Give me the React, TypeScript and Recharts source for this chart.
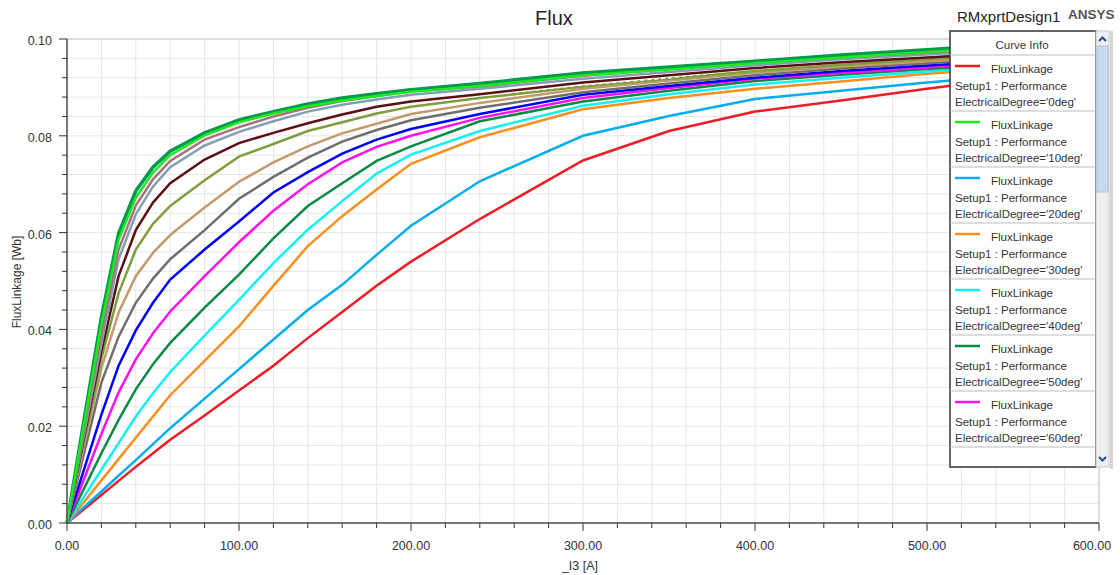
import React from 'react';
import { LineChart, Line, XAxis, YAxis, CartesianGrid } from 'recharts';

// current [A]
const current = [0, 10, 20, 30, 40, 50, 60, 80, 100, 120, 140, 160, 180, 200, 240, 300, 350, 400, 450, 500, 550, 600];

// flux linkage [Wb] per electrical degree
const flux0 = [0, 0.0029, 0.0058, 0.0087, 0.0116, 0.0144, 0.0172, 0.0222, 0.0274, 0.0325, 0.0382, 0.0436, 0.049, 0.054, 0.0628, 0.0749, 0.081, 0.085, 0.0873, 0.0897, 0.092, 0.094];
const flux10 = [0, 0.0205, 0.041, 0.0585, 0.0672, 0.0724, 0.076, 0.0801, 0.0828, 0.0846, 0.0861, 0.0873, 0.0882, 0.0891, 0.0903, 0.0925, 0.0937, 0.095, 0.0962, 0.0973, 0.0984, 0.0995];
const flux20 = [0, 0.0033, 0.0065, 0.0098, 0.013, 0.0163, 0.0196, 0.0257, 0.0318, 0.0379, 0.044, 0.0492, 0.0554, 0.0614, 0.0706, 0.08, 0.0841, 0.0876, 0.0893, 0.091, 0.0925, 0.094];
const flux30 = [0, 0.0044, 0.0088, 0.0132, 0.0176, 0.022, 0.0264, 0.0335, 0.0406, 0.049, 0.0572, 0.0634, 0.0689, 0.0742, 0.0797, 0.0855, 0.0878, 0.0897, 0.0912, 0.0928, 0.094, 0.095];
const flux40 = [0, 0.0055, 0.011, 0.0165, 0.022, 0.0268, 0.0312, 0.0387, 0.0461, 0.0537, 0.0606, 0.0665, 0.0722, 0.0761, 0.081, 0.0862, 0.0886, 0.0906, 0.092, 0.0933, 0.0944, 0.0954];
const flux50 = [0, 0.0072, 0.0144, 0.0213, 0.0276, 0.0328, 0.0372, 0.0445, 0.0513, 0.0588, 0.0655, 0.0702, 0.0748, 0.0778, 0.083, 0.0871, 0.0893, 0.0913, 0.0926, 0.0938, 0.0948, 0.0958];
const flux60 = [0, 0.0092, 0.0184, 0.027, 0.0338, 0.0392, 0.0437, 0.051, 0.058, 0.0645, 0.07, 0.0745, 0.0777, 0.08, 0.0837, 0.0878, 0.0899, 0.0918, 0.093, 0.0941, 0.0952, 0.0962];
const flux70 = [0, 0.0112, 0.0224, 0.0325, 0.0398, 0.0455, 0.0503, 0.0565, 0.0623, 0.0683, 0.0725, 0.0763, 0.0792, 0.0814, 0.0845, 0.0885, 0.0903, 0.092, 0.0934, 0.0945, 0.0956, 0.0966];
const flux80 = [0, 0.0145, 0.029, 0.0385, 0.0455, 0.0505, 0.0545, 0.0605, 0.067, 0.0715, 0.0755, 0.0788, 0.0812, 0.0832, 0.0858, 0.089, 0.0908, 0.0925, 0.0939, 0.095, 0.096, 0.097];
const flux90 = [0, 0.016, 0.032, 0.0435, 0.051, 0.0558, 0.0595, 0.0652, 0.0705, 0.0745, 0.0778, 0.0805, 0.0825, 0.0845, 0.0868, 0.0897, 0.0914, 0.093, 0.0943, 0.0954, 0.0964, 0.0974];
const flux100 = [0, 0.017, 0.034, 0.0475, 0.0565, 0.0618, 0.0655, 0.0708, 0.0757, 0.0783, 0.081, 0.0828, 0.0846, 0.086, 0.0878, 0.0902, 0.0918, 0.0934, 0.0947, 0.0958, 0.0968, 0.0978];
const flux110 = [0, 0.0178, 0.0355, 0.051, 0.0605, 0.0662, 0.0702, 0.0751, 0.0785, 0.0806, 0.0826, 0.0844, 0.086, 0.0871, 0.0886, 0.091, 0.0925, 0.094, 0.0952, 0.0962, 0.0972, 0.0982];
const flux120 = [0, 0.0178, 0.0355, 0.051, 0.0605, 0.0662, 0.0702, 0.0751, 0.0785, 0.0806, 0.0826, 0.0844, 0.086, 0.0871, 0.0883, 0.0905, 0.092, 0.094, 0.0952, 0.0962, 0.0972, 0.0982];
const flux130 = [0, 0.0185, 0.037, 0.0545, 0.0638, 0.0695, 0.0735, 0.078, 0.0808, 0.083, 0.085, 0.0864, 0.0875, 0.0885, 0.0897, 0.0918, 0.0932, 0.0946, 0.0958, 0.0968, 0.0978, 0.0988];
const flux140 = [0, 0.0195, 0.039, 0.0565, 0.0656, 0.071, 0.0748, 0.0792, 0.0818, 0.084, 0.0858, 0.0872, 0.0882, 0.0892, 0.0902, 0.0924, 0.0938, 0.0952, 0.0962, 0.0972, 0.0982, 0.0992];
const flux150 = [0, 0.0215, 0.0425, 0.0598, 0.0686, 0.0735, 0.0768, 0.0806, 0.0833, 0.085, 0.0866, 0.0878, 0.0887, 0.0895, 0.0908, 0.093, 0.0942, 0.0954, 0.0967, 0.0978, 0.0989, 0.1];

const xMinorTicks = [0, 20, 40, 60, 80, 100, 120, 140, 160, 180, 200, 220, 240, 260, 280, 300, 320, 340, 360, 380, 400, 420, 440, 460, 480, 500, 520, 540, 560, 580, 600];
const xMajorTicks = [0, 100, 200, 300, 400, 500, 600];
const yMinorTicks = [0, 0.004, 0.008, 0.012, 0.016, 0.02, 0.024, 0.028, 0.032, 0.036, 0.04, 0.044, 0.048, 0.052, 0.056, 0.06, 0.064, 0.068, 0.072, 0.076, 0.08, 0.084, 0.088, 0.092, 0.096, 0.1];
const yMajorTicks = [0, 0.02, 0.04, 0.06, 0.08, 0.1];

const curves = [
  { deg: 0, color: '#ee1c25', values: flux0 },
  { deg: 10, color: '#1ee81e', values: flux10 },
  { deg: 20, color: '#00aeef', values: flux20 },
  { deg: 30, color: '#f7901e', values: flux30 },
  { deg: 40, color: '#12f0f0', values: flux40 },
  { deg: 50, color: '#0a8a44', values: flux50 },
  { deg: 60, color: '#ff10f0', values: flux60 },
  { deg: 70, color: '#0000ff', values: flux70 },
  { deg: 80, color: '#6e6e6e', values: flux80 },
  { deg: 90, color: '#c49a6c', values: flux90 },
  { deg: 100, color: '#7f9f3f', values: flux100 },
  { deg: 110, color: '#5b1015', values: flux110 },
  { deg: 120, color: '#ffffff', values: flux120, dash: '4 3' },
  { deg: 130, color: '#82a0b2', values: flux130 },
  { deg: 140, color: '#a8717e', values: flux140 },
  { deg: 150, color: '#009a4e', values: flux150 },
];

const drawOrder = [0, 20, 30, 40, 50, 60, 70, 80, 90, 100, 120, 110, 130, 140, 150, 10];

const data = current.map((c, i) => {
  const row: Record<string, number> = { current: c };
  curves.forEach((cv) => {
    row['deg' + cv.deg] = cv.values[i];
  });
  return row;
});

const font = "'Liberation Sans', Arial, sans-serif";

const XTick = (props: any) => {
  const { x, y, payload } = props;
  const major = xMajorTicks.includes(payload.value);
  return (
    <g>
      <line x1={x} x2={x} y1={y} y2={y + (major ? 8 : 5)} stroke="#333" />
      {major && (
        <text x={payload.value === 600 ? x - 7 : x} y={y + 27} textAnchor="middle" fontSize={12.5} fill="#333" fontFamily={font}>
          {payload.value.toFixed(2)}
        </text>
      )}
    </g>
  );
};

const YTick = (props: any) => {
  const { x, y, payload } = props;
  const major = yMajorTicks.includes(payload.value);
  return (
    <g>
      <line x1={x - (major ? 8 : 5)} x2={x} y1={y} y2={y} stroke="#333" />
      {major && (
        <text x={x - 15} y={y + 6} textAnchor="end" fontSize={12.5} fill="#333" fontFamily={font}>
          {payload.value.toFixed(2)}
        </text>
      )}
    </g>
  );
};

const legendItems = curves.slice(0, 7);

const Overlay = () => (
  <svg width={1120} height={575} style={{ position: 'absolute', left: 0, top: 0, pointerEvents: 'none' }} fontFamily={font}>
    <text x={535} y={25} fontSize={20} fill="#222">Flux</text>
    <text x={957} y={22} fontSize={15} fill="#222">RMxprtDesign1</text>
    <text x={1068} y={19} fontSize={13.5} fontWeight="bold" fill="#555">ANSYS</text>
    <text x={21} y={282} fontSize={12} fill="#333" textAnchor="middle" transform="rotate(-90, 21, 282)">FluxLinkage [Wb]</text>
    <text x={580} y={570} fontSize={12.5} fill="#333" textAnchor="middle">_I3 [A]</text>

    <rect x={950} y={31} width={146} height={436} fill="#fff" stroke="#333" strokeWidth={1.5} />
    <text x={1022} y={49} fontSize={11.5} fill="#333" textAnchor="middle">Curve Info</text>
    <line x1={950} x2={1095} y1={55} y2={55} stroke="#bdbdbd" />
    {legendItems.map((c, i) => {
      const t = 55 + 56 * i;
      return (
        <g key={c.deg}>
          <line x1={955} x2={980} y1={t + 11} y2={t + 11} stroke={c.color} strokeWidth={2.5} />
          <text x={991} y={t + 18} fontSize={11.5} fill="#333">FluxLinkage</text>
          <text x={955} y={t + 35} fontSize={11.5} fill="#333">Setup1 : Performance</text>
          <text x={955} y={t + 51} fontSize={11.5} fill="#333">{`ElectricalDegree='${c.deg}deg'`}</text>
          <line x1={950} x2={1095} y1={t + 56} y2={t + 56} stroke="#bdbdbd" />
        </g>
      );
    })}

    <rect x={1096} y={31} width={13} height={436} fill="#eeeeee" stroke="#c8c8c8" />
    <rect x={1097} y={46} width={11} height={146} fill="#c6d9f1" stroke="#aac2e2" />
    <polyline points="1099,41 1102.5,37.5 1106,41" fill="none" stroke="#1e4ea8" strokeWidth={2} />
    <polyline points="1099,457 1102.5,460.5 1106,457" fill="none" stroke="#1e4ea8" strokeWidth={2} />
    <rect x={1110} y={31} width={3} height={438} fill="#d4d4d4" />
  </svg>
);

export default function App() {
  return (
    <div style={{ position: 'absolute', left: 0, top: 0, width: 1120, height: 575, background: '#fff' }}>
      <LineChart width={1120} height={575} data={data} margin={{ top: 39, right: 21, bottom: 0, left: 0 }}>
        <CartesianGrid stroke="#e6e6e6" />
        <CartesianGrid xAxisId="major" yAxisId="major" stroke="#c6c6c6" />
        <XAxis
          dataKey="current"
          type="number"
          domain={[0, 600]}
          ticks={xMinorTicks}
          interval={0}
          height={52}
          tickSize={0}
          tickMargin={0}
          tickLine={false}
          tick={<XTick />}
          axisLine={{ stroke: '#555', strokeWidth: 1.5 }}
        />
        <XAxis xAxisId="major" type="number" domain={[0, 600]} ticks={xMajorTicks} hide />
        <XAxis
          xAxisId="top"
          orientation="top"
          type="number"
          domain={[0, 600]}
          height={0}
          tick={false}
          tickLine={false}
          axisLine={{ stroke: '#555', strokeWidth: 1.5 }}
        />
        <YAxis
          type="number"
          domain={[0, 0.1]}
          ticks={yMinorTicks}
          interval={0}
          width={67}
          tickSize={0}
          tickMargin={0}
          tickLine={false}
          tick={<YTick />}
          axisLine={{ stroke: '#555', strokeWidth: 1.5 }}
        />
        <YAxis yAxisId="major" type="number" domain={[0, 0.1]} ticks={yMajorTicks} hide />
        <YAxis
          yAxisId="right"
          orientation="right"
          type="number"
          domain={[0, 0.1]}
          width={0}
          tick={false}
          tickLine={false}
          axisLine={{ stroke: '#555', strokeWidth: 1.5 }}
        />
        {drawOrder.map((deg) => {
          const c = curves.find((cv) => cv.deg === deg)!;
          return (
            <Line
              key={deg}
              type="linear"
              dataKey={'deg' + deg}
              stroke={c.color}
              strokeWidth={c.dash ? 1.5 : deg === 150 ? 3.5 : 2.5}
              strokeDasharray={c.dash}
              dot={false}
              isAnimationActive={false}
            />
          );
        })}
      </LineChart>
      <Overlay />
    </div>
  );
}
